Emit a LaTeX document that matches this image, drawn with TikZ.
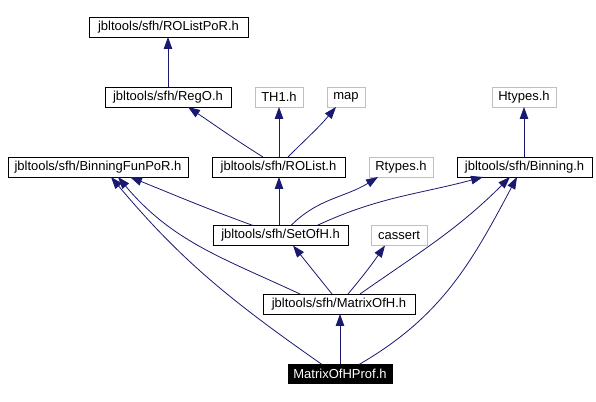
\documentclass[tikz,border=0pt]{standalone}
\usepackage{fontspec}
\setmainfont{Liberation Sans}
\usetikzlibrary{arrows.meta}
\definecolor{edgecol}{HTML}{191970}
\definecolor{graybox}{HTML}{BFBFBF}
\tikzset{
  box/.style={draw=black, line width=0.9pt, fill=white, minimum height=20pt, inner sep=0pt, outer sep=0pt, font=\fontsize{13}{15}\selectfont, text=black},
  gbox/.style={box, draw=graybox},
  hbox/.style={box, draw=black, fill=black, text=white, minimum height=19pt},
  edge/.style={draw=edgecol, line width=0.8pt, -{Triangle[length=12pt,width=8.5pt]}},
}
\begin{document}
\begin{tikzpicture}[x=1pt,y=1pt]
\useasboundingbox (0,0) rectangle (596,401);
\node[box, minimum width=159pt] (rolistpor) at (168.5,374) {jbltools/sfh/ROListPoR.h};
\node[box, minimum width=126pt] (rego) at (168,304) {jbltools/sfh/RegO.h};
\node[gbox, minimum width=48pt] (th1) at (279,304) {TH1.h};
\node[gbox, minimum width=38pt] (map) at (346,304) {map};
\node[gbox, minimum width=64pt] (htypes) at (524,304) {Htypes.h};
\node[box, minimum width=180pt] (binfun) at (98,234) {jbltools/sfh/BinningFunPoR.h};
\node[box, minimum width=133pt] (rolist) at (278.5,234) {jbltools/sfh/ROList.h};
\node[gbox, minimum width=64pt] (rtypes) at (401,234) {Rtypes.h};
\node[box, minimum width=135pt] (binning) at (524.5,234) {jbltools/sfh/Binning.h};
\node[box, minimum width=135pt] (setofh) at (280.5,165.5) {jbltools/sfh/SetOfH.h};
\node[gbox, minimum width=56pt] (cassert) at (399,165.5) {cassert};
\node[box, minimum width=152pt] (matrix) at (339,97) {jbltools/sfh/MatrixOfH.h};
\node[hbox, minimum width=104pt] (prof) at (340,27) {MatrixOfHProf.h};

\draw[edge] (rego.north) -- ([xshift=-0.5pt]rolistpor.south);
\draw[edge] ([xshift=-15.5pt]rolist.north) to[out=148,in=-34] ([xshift=20pt]rego.south);
\draw[edge] ([xshift=0.5pt]rolist.north) -- (th1.south);
\draw[edge] ([xshift=9.5pt]rolist.north) to[out=45,in=-130] ([xshift=-10pt]map.south);
\draw[edge] ([xshift=-0.5pt]binning.north) -- (htypes.south);

\draw[edge] ([xshift=-27.5pt]setofh.north) to[out=160,in=-22] ([xshift=32pt]binfun.south);
\draw[edge] ([xshift=-1.5pt]setofh.north) -- ([xshift=0.5pt]rolist.south);
\draw[edge] ([xshift=10.5pt]setofh.north) to[out=45,in=-148] ([xshift=-23pt]rtypes.south);
\draw[edge] ([xshift=36.5pt]setofh.north) to[out=25,in=-165] ([xshift=-41.5pt]binning.south);

\draw[edge] ([xshift=-39pt]matrix.north) to[out=155,in=-50] ([xshift=20pt]binfun.south);
\draw[edge] ([xshift=-7pt]matrix.north) -- ([xshift=12.5pt]setofh.south);
\draw[edge] ([xshift=9pt]matrix.north) to[out=50,in=-125] ([xshift=-14pt]cassert.south);
\draw[edge] ([xshift=21pt]matrix.north) to[out=35,in=-135] ([xshift=-14.5pt]binning.south);

\draw[edge] (prof.north) -- ([xshift=1pt]matrix.south);
\draw[edge] ([xshift=-18pt]prof.north) to[out=145,in=-50] ([xshift=13pt]binfun.south);
\draw[edge] ([xshift=19pt]prof.north) to[out=30,in=-118] ([xshift=-7.5pt]binning.south);
\end{tikzpicture}
\end{document}
